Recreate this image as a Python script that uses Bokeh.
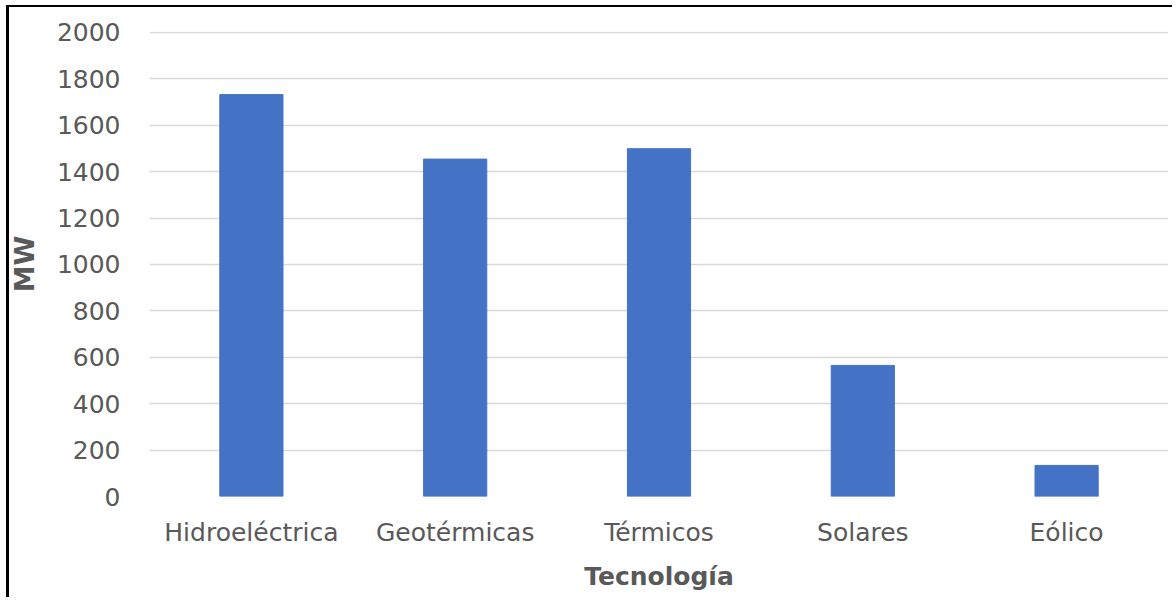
from bokeh.plotting import figure
from bokeh.models import FactorRange, FixedTicker, ColumnDataSource
from bokeh.layouts import column
from bokeh.embed import file_html
from bokeh.resources import INLINE

categories = ["Hidroeléctrica", "Geotérmicas", "Térmicos", "Solares", "Eólico"]
values = [1732, 1454, 1499, 565, 134]
y_ticks = [0, 200, 400, 600, 800, 1000, 1200, 1400, 1600, 1800, 2000]

source = ColumnDataSource(data=dict(cat=categories, val=values))

p = figure(
    x_range=FactorRange(*categories, range_padding=0),
    y_range=(0, 2004),
    width=1167, height=590,
    output_backend="svg", toolbar_location=None,
    min_border_left=141, min_border_right=0,
    min_border_top=24, min_border_bottom=101,
)
p.styles = {"margin-left": "-4px"}

p.vbar(x="cat", top="val", width=0.31, source=source,
       fill_color="#4472C4", line_color="#4472C4", line_width=1)

p.outline_line_color = None
p.background_fill_color = "white"
p.border_fill_color = None

p.xgrid.grid_line_color = None
p.ygrid.grid_line_color = "#d9d9d9"
p.ygrid.grid_line_width = 1.5
p.ygrid.ticker = FixedTicker(ticks=y_ticks)

p.yaxis.ticker = FixedTicker(ticks=y_ticks)

for ax in (p.xaxis[0], p.yaxis[0]):
    ax.axis_line_color = None
    ax.major_tick_line_color = None
    ax.minor_tick_line_color = None
    ax.major_tick_out = 0
    ax.major_tick_in = 0
    ax.minor_tick_out = 0
    ax.minor_tick_in = 0
    ax.major_label_text_font = "DejaVu Sans"
    ax.major_label_text_font_size = "25px"
    ax.major_label_text_color = "#595959"
    ax.axis_label_text_font = "DejaVu Sans"
    ax.axis_label_text_font_size = "25px"
    ax.axis_label_text_font_style = "bold"
    ax.axis_label_text_color = "#595959"

p.yaxis.axis_label_text_font_size = "27px"
p.xaxis.axis_label = "Tecnología"
p.yaxis.axis_label = "MW"
p.xaxis.major_label_standoff = 21
p.xaxis.axis_label_standoff = 12
p.yaxis.major_label_standoff = 29
p.yaxis.axis_label_standoff = 14

layout = column(p)
layout.styles = {"border-left": "3px solid black", "border-top": "2px solid black",
                 "margin-left": "6px", "margin-top": "5px",
                 "background-color": "white"}

open("out.html", "w").write(file_html(layout, INLINE))
